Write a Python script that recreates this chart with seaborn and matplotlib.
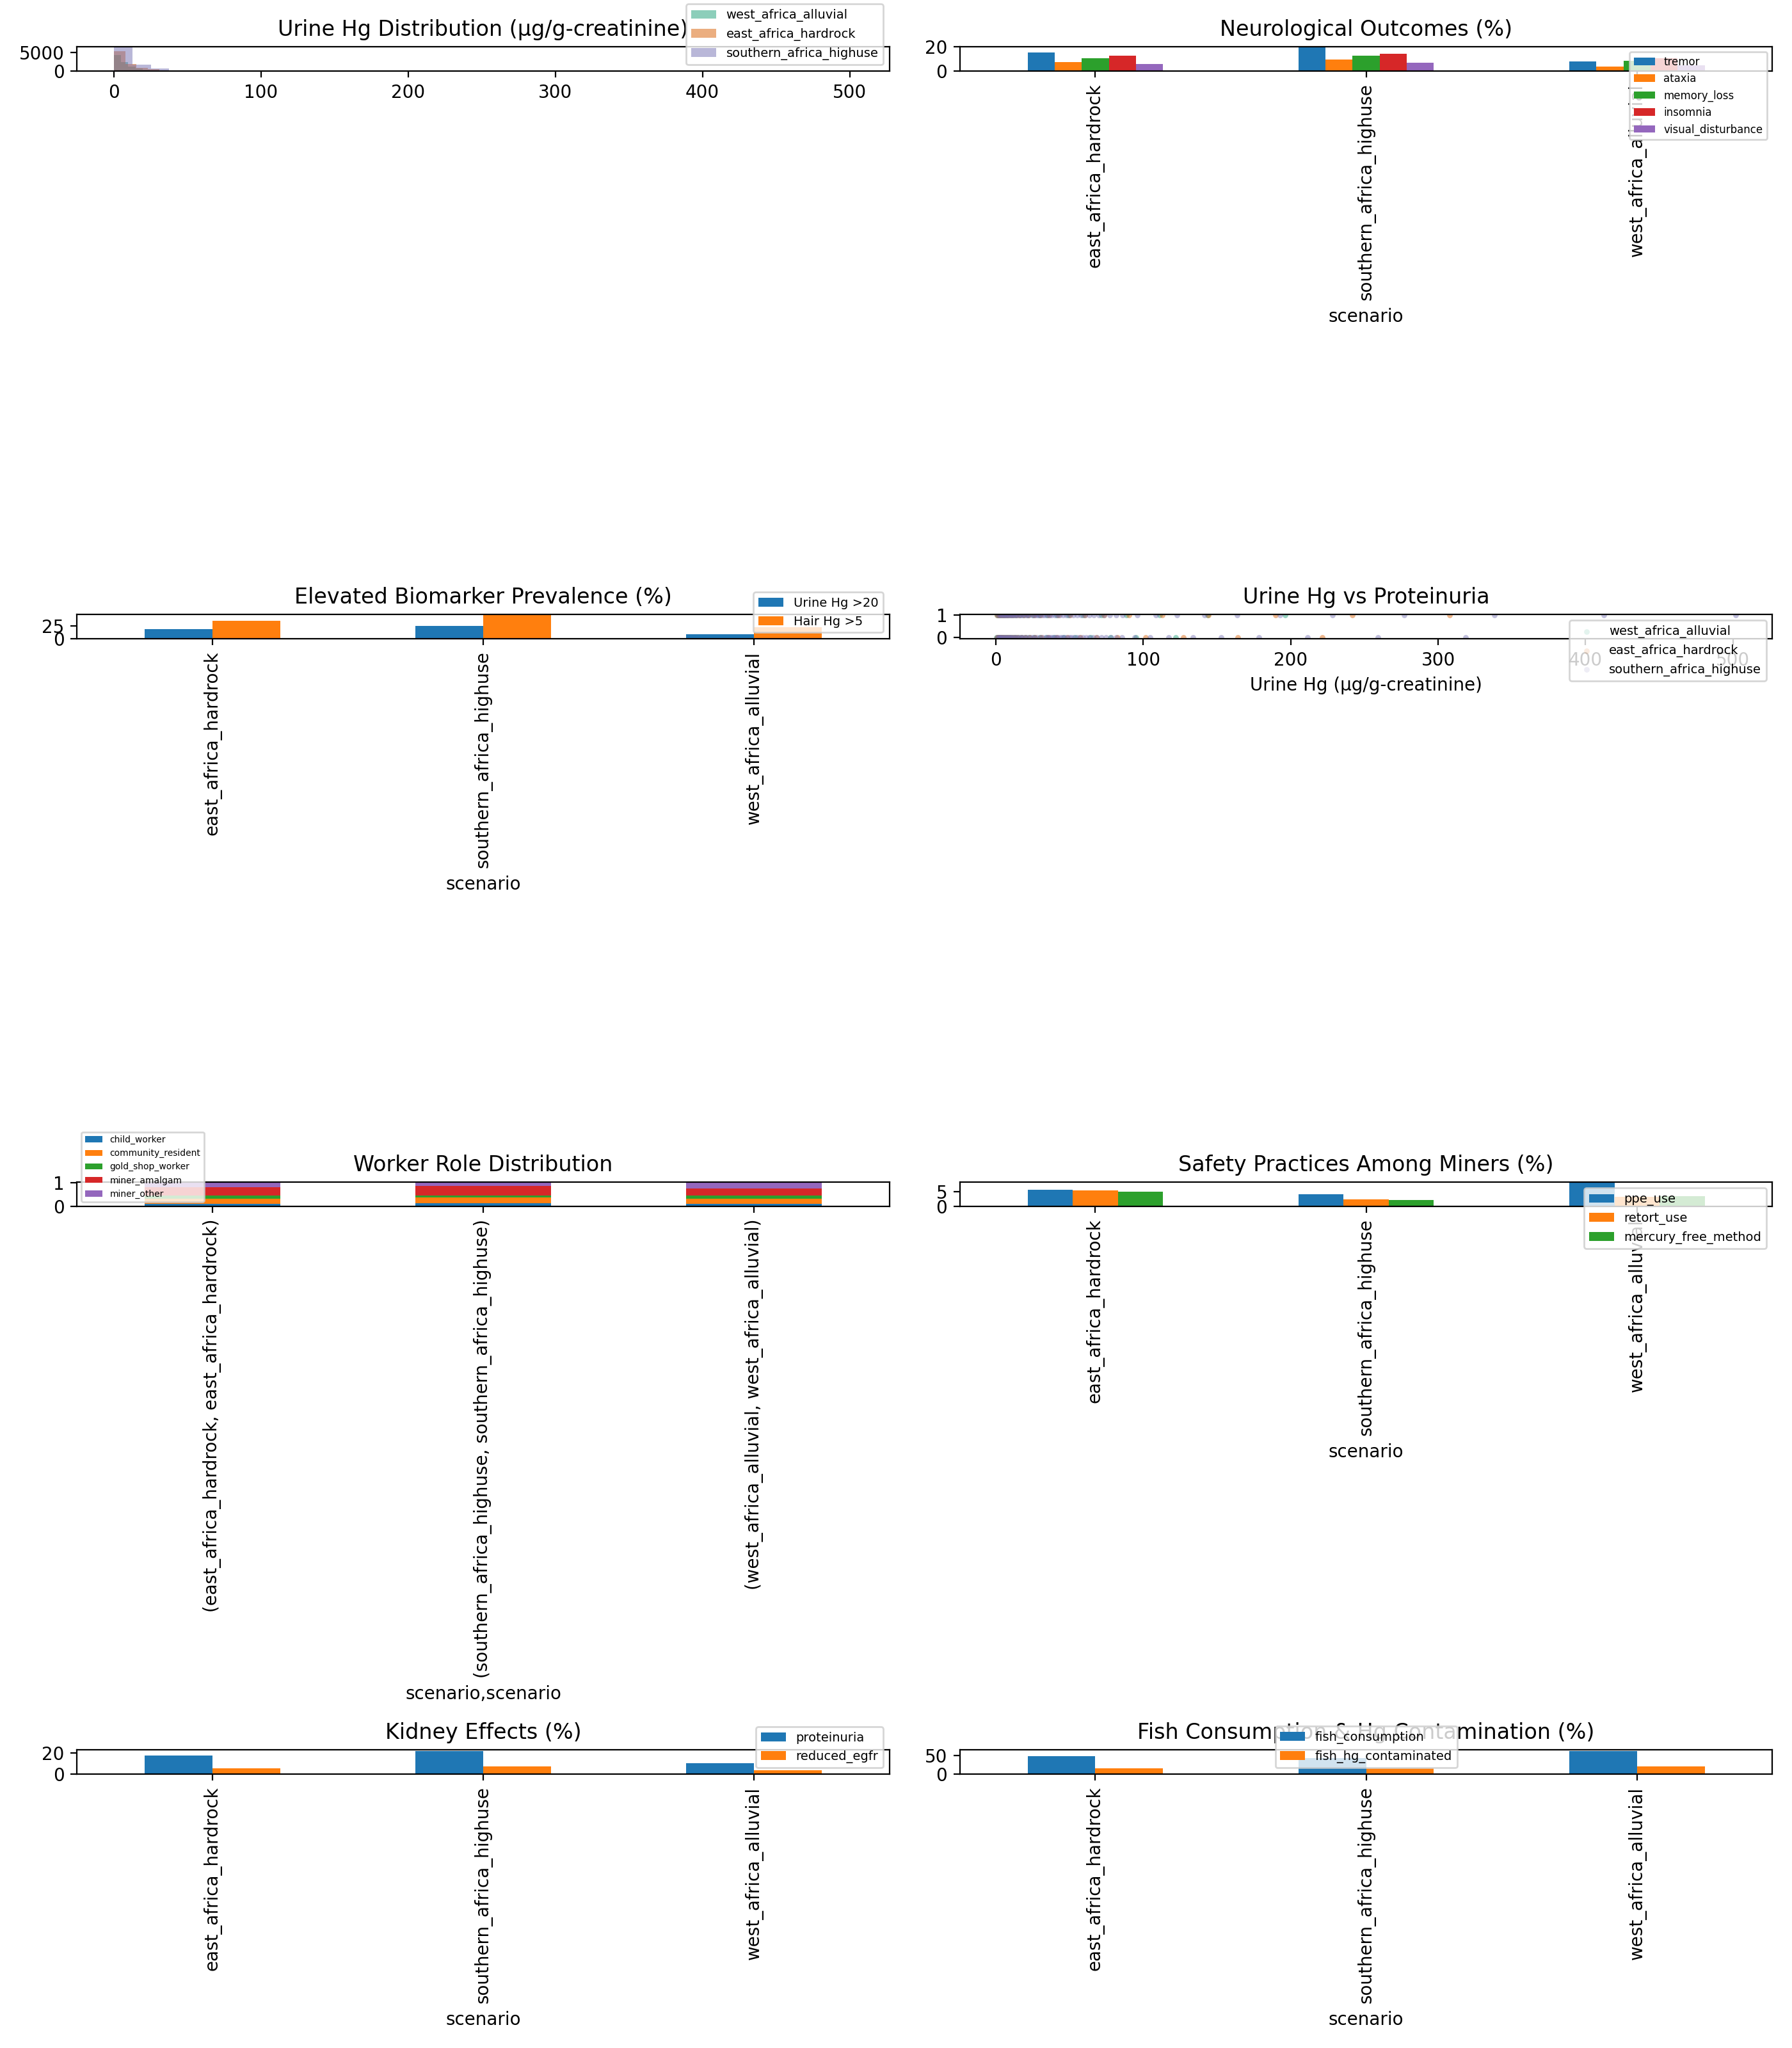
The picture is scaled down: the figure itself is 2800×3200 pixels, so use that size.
import numpy as np
import pandas as pd
import seaborn as sns
import matplotlib.pyplot as plt

SCENARIOS = ["east_africa_hardrock", "southern_africa_highuse", "west_africa_alluvial"]
HIST_ORDER = ["west_africa_alluvial", "east_africa_hardrock", "southern_africa_highuse"]
HIST_COLORS = sns.color_palette("Dark2", 3)

# urine Hg histograms: 40 bins from 0 to each scenario's maximum
urine_max = {"west_africa_alluvial": 196.0, "east_africa_hardrock": 308.0, "southern_africa_highuse": 502.0}
urine_counts_west = [4353, 2470, 1300, 700, 400, 230, 140, 85, 50, 32, 20, 13, 9, 6, 4, 3, 2, 2, 1, 1,
                     1, 1, 0, 1, 0, 0, 1, 0, 0, 0, 0, 1, 0, 0, 0, 0, 0, 0, 0, 1]
urine_counts_east = [5412, 2000, 824, 470, 220, 120, 70, 40, 25, 15, 10, 7, 5, 3, 3, 2, 2, 1, 1, 1,
                     1, 0, 1, 0, 0, 1, 0, 0, 0, 0, 0, 1, 0, 0, 0, 0, 0, 0, 0, 1]
urine_counts_south = [6350, 1706, 647, 235, 110, 55, 30, 18, 11, 7, 5, 4, 3, 2, 2, 1, 1, 1, 1, 0,
                      1, 0, 0, 1, 0, 0, 0, 1, 0, 0, 0, 0, 0, 0, 0, 0, 0, 0, 0, 1]

# neurological outcomes (%), order of SCENARIOS
tremor = [15.0, 19.2, 8.1]
ataxia = [7.6, 9.7, 3.9]
memory_loss = [10.8, 12.4, 8.7]
insomnia = [12.4, 14.0, 10.3]
visual_disturbance = [6.0, 7.1, 5.0]

# elevated biomarkers (%)
urine_hg_gt20 = [19.3, 25.4, 9.4]
hair_hg_gt5 = [35.2, 45.5, 23.0]

# urine Hg (x) of people without / with proteinuria
hg_noprot_west = [0.6, 1.4, 2.2, 3.1, 3.9, 4.8, 5.7, 6.8, 7.9, 9.1, 10.4, 11.9, 13.5, 15.3, 17.4,
                  19.8, 22.6, 25.9, 29.7, 34.2, 39.5, 46.1, 54.0, 64.3, 77.5, 95.2, 121.8]
hg_prot_west = [0.9, 1.8, 2.7, 3.7, 4.6, 5.8, 7.0, 8.4, 9.9, 11.6, 13.6, 15.9, 18.5, 21.6, 25.2,
                29.6, 34.9, 41.3, 49.2, 59.0, 71.8, 88.4, 110.9, 143.5, 196.0]
hg_noprot_east = [0.7, 1.6, 2.5, 3.5, 4.5, 5.6, 6.8, 8.1, 9.5, 11.1, 12.9, 14.9, 17.2, 19.8, 22.9,
                  26.4, 30.6, 35.5, 41.4, 48.6, 57.3, 68.2, 82.6, 101.4, 127.0, 164.3, 221.5]
hg_prot_east = [1.0, 2.0, 3.1, 4.2, 5.4, 6.7, 8.2, 9.8, 11.6, 13.7, 16.1, 18.9, 22.1, 25.9, 30.4,
                35.8, 42.3, 50.4, 60.5, 73.4, 90.2, 112.8, 144.1, 189.7, 242.0, 308.0]
hg_noprot_south = [0.8, 1.5, 2.1, 2.9, 3.6, 4.4, 5.2, 6.0, 6.9, 7.7, 8.6, 9.4, 10.5, 11.3, 12.4,
                   13.6, 14.5, 15.9, 17.2, 18.4, 19.9, 21.3, 22.8, 24.5, 26.1, 27.9, 29.8, 31.6, 33.9,
                   35.1, 36.2, 37.5, 38.4, 39.8, 41.0, 42.2, 43.7, 45.0, 46.5, 48.1, 49.8, 51.4, 53.1,
                   55.0, 56.9, 59.0, 61.2, 63.5, 66.0, 68.6, 71.4, 74.5, 77.9, 81.4, 85.3, 94.0,
                   104.6, 117.2, 133.5, 152.8, 178.4, 211.6, 259.0, 318.7]
hg_prot_south = [1.1, 2.4, 3.2, 3.8, 5.0, 5.7, 6.3, 7.5, 8.2, 8.9, 10.2, 11.0, 11.8, 13.1, 14.0,
                 14.9, 16.6, 17.5, 18.7, 20.5, 21.4, 22.6, 24.9, 26.0, 27.4, 28.8, 30.1, 31.5, 33.0,
                 34.6, 36.3, 37.9, 39.7, 41.6, 43.5, 45.6, 47.8, 50.0, 52.4, 54.9, 57.6, 60.4, 63.3,
                 66.5, 69.8, 73.4, 77.2, 81.4, 85.9, 96.1, 108.4, 123.0, 141.5, 163.8,
                 192.7, 228.4, 276.9, 338.2, 412.5, 501.8]

# worker role shares
child_worker = [0.10, 0.13, 0.10]
community_resident = [0.22, 0.25, 0.245]
gold_shop_worker = [0.14, 0.08, 0.11]
miner_amalgam = [0.35, 0.41, 0.30]
miner_other = [0.19, 0.13, 0.245]

# safety practices among miners (%)
ppe_use = [5.6, 4.15, 7.75]
retort_use = [5.4, 2.45, 3.3]
mercury_free_method = [5.0, 2.25, 3.5]

# kidney effects (%)
proteinuria = [17.8, 22.0, 10.5]
reduced_egfr = [5.7, 7.5, 3.8]

# fish (%)
fish_consumption = [48.9, 43.7, 62.6]
fish_hg_contaminated = [16.0, 15.5, 21.3]


def grouped_bars(ax, columns, title, loc, fontsize):
    df = pd.DataFrame({"scenario": SCENARIOS, **columns})
    df = df.melt("scenario", var_name="measure", value_name="pct")
    sns.barplot(data=df, x="scenario", y="pct", hue="measure", palette="tab10",
                width=0.5, saturation=1, errorbar=None, ax=ax)
    old = ax.get_legend()
    ax.legend(old.legend_handles, [t.get_text() for t in old.get_texts()],
              loc=loc, fontsize=fontsize)
    ax.set_title(title)
    ax.set_xlabel("scenario")
    ax.set_ylabel("")
    ax.tick_params(axis="x", labelrotation=90)


fig, axes = plt.subplots(4, 2, figsize=(14, 16))
fig.subplots_adjust(left=0.0429, right=0.9891, top=0.9773, bottom=0.1337,
                    wspace=0.0866, hspace=22.05)

# urine Hg distribution
ax = axes[0, 0]
hist_counts = {"west_africa_alluvial": urine_counts_west,
               "east_africa_hardrock": urine_counts_east,
               "southern_africa_highuse": urine_counts_south}
for name, color in zip(HIST_ORDER, HIST_COLORS):
    edges = np.linspace(0, urine_max[name], len(hist_counts[name]) + 1)
    binned = pd.DataFrame({"hg": edges[:-1], "n": hist_counts[name]})
    sns.histplot(data=binned, x="hg", weights="n", bins=list(edges), color=color,
                 alpha=0.5, linewidth=0, label=name, ax=ax)
ax.set_title("Urine Hg Distribution (μg/g-creatinine)")
ax.set_xlabel("")
ax.set_ylabel("")
ax.legend(loc="lower right", fontsize=7)

# neurological outcomes
grouped_bars(axes[0, 1], {"tremor": tremor, "ataxia": ataxia, "memory_loss": memory_loss,
                          "insomnia": insomnia, "visual_disturbance": visual_disturbance},
             "Neurological Outcomes (%)", "upper right", 6)

# elevated biomarkers
grouped_bars(axes[1, 0], {"Urine Hg >20": urine_hg_gt20, "Hair Hg >5": hair_hg_gt5},
             "Elevated Biomarker Prevalence (%)", "lower right", 7)

# urine Hg vs proteinuria
ax = axes[1, 1]
scatter_sets = {"west_africa_alluvial": (hg_noprot_west, hg_prot_west),
                "east_africa_hardrock": (hg_noprot_east, hg_prot_east),
                "southern_africa_highuse": (hg_noprot_south, hg_prot_south)}
for name, color in zip(HIST_ORDER, HIST_COLORS):
    neg, pos = scatter_sets[name]
    pts = pd.DataFrame({"hg": neg + pos, "prot": [0] * len(neg) + [1] * len(pos)})
    sns.scatterplot(data=pts, x="hg", y="prot", color=color, alpha=0.45, s=10,
                    linewidth=0, label=name, ax=ax)
ax.set_title("Urine Hg vs Proteinuria")
ax.set_xlabel("Urine Hg (μg/g-creatinine)")
ax.set_ylabel("")
leg = ax.legend(loc="upper right", fontsize=7)
for h in leg.legend_handles:
    h.set_alpha(0.12)

# worker role distribution (stacked)
ax = axes[2, 0]
roles = {"child_worker": child_worker, "community_resident": community_resident,
         "gold_shop_worker": gold_shop_worker, "miner_amalgam": miner_amalgam,
         "miner_other": miner_other}
tab10 = sns.color_palette("tab10")
pos = np.arange(len(SCENARIOS))
bottom = np.zeros(len(SCENARIOS))
for (role, vals), color in zip(roles.items(), tab10):
    ax.bar(pos, vals, width=0.5, bottom=bottom, color=color, label=role)
    bottom += np.array(vals)
ax.set_xlim(-0.5, len(SCENARIOS) - 0.5)
ax.set_xticks(pos)
ax.set_xticklabels([f"({s}, {s})" for s in SCENARIOS], rotation=90)
ax.set_xlabel("scenario,scenario")
ax.set_title("Worker Role Distribution")
ax.legend(loc="lower left", fontsize=5)

# safety practices
grouped_bars(axes[2, 1], {"ppe_use": ppe_use, "retort_use": retort_use,
                          "mercury_free_method": mercury_free_method},
             "Safety Practices Among Miners (%)", "upper right", 7)

# kidney effects
grouped_bars(axes[3, 0], {"proteinuria": proteinuria, "reduced_egfr": reduced_egfr},
             "Kidney Effects (%)", "lower right", 7)

# fish
grouped_bars(axes[3, 1], {"fish_consumption": fish_consumption,
                          "fish_hg_contaminated": fish_hg_contaminated},
             "Fish Consumption & Hg Contamination (%)", "lower center", 7)

fig.savefig("out.png", dpi=200)
